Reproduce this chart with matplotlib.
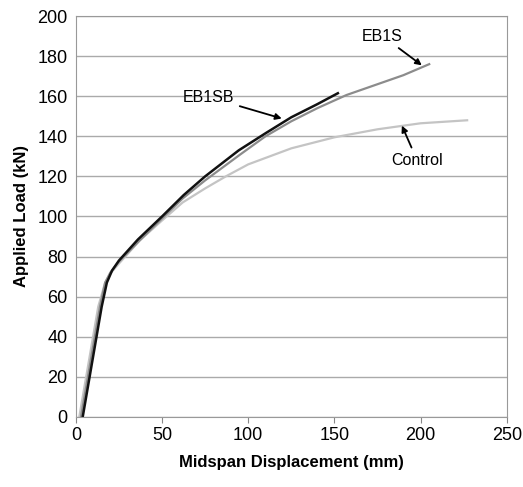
import matplotlib.pyplot as plt

# curves (displacement mm, load kN)
control_x = [2, 5, 9, 13, 17, 20, 25, 37, 50, 62, 75, 87, 100, 125, 150, 175, 200, 227]
control_y = [0, 15, 35, 55, 67, 71.5, 76.5, 88, 98, 107, 114, 120, 126, 134, 139.5, 143.5, 146.5, 148]

eb1s_x = [3, 6, 10, 14, 17, 20, 25, 37, 50, 62, 75, 95, 110, 125, 140, 157, 175, 190, 205]
eb1s_y = [0, 15, 35, 55, 67, 72, 77.5, 88, 99, 109, 118, 130.7, 140, 147.5, 154, 160.6, 166, 170.5, 176]

eb1sb_x = [4, 7, 11, 15, 18, 21, 25, 36, 50, 62.6, 75, 94.5, 110, 125, 140, 152]
eb1sb_y = [0, 15, 35, 55, 67, 73, 78, 88.5, 100, 110.7, 120, 133, 141.5, 149.5, 156, 161.5]

x_ticks = [0, 50, 100, 150, 200, 250]
y_ticks = list(range(0, 201, 20))

plt.rcParams['font.family'] = ['Liberation Sans Narrow', 'Liberation Sans', 'DejaVu Sans']

fig = plt.figure(figsize=(5.23, 4.87), dpi=100)
ax = fig.add_axes([0.145, 0.144, 0.824, 0.823])

ax.plot(control_x, control_y, color='#c4c4c4', linewidth=1.6)
ax.plot(eb1s_x, eb1s_y, color='#8c8c8c', linewidth=1.6)
ax.plot(eb1sb_x, eb1sb_y, color='#111111', linewidth=1.8)

arrow = dict(arrowstyle='-|>', color='black', lw=1.3, mutation_scale=9)
ax.annotate('EB1S', xy=(202, 174.6), xytext=(178, 190), ha='center', va='center',
            fontsize=11.5, arrowprops=arrow)
ax.annotate('EB1SB', xy=(121, 148.5), xytext=(77, 159.6), ha='center', va='center',
            fontsize=11.5, arrowprops=arrow)
ax.annotate('Control', xy=(188.5, 146.6), xytext=(198, 128), ha='center', va='center',
            fontsize=11.5, arrowprops=arrow)

ax.set_xlim(0, 250)
ax.set_ylim(0, 200)
ax.set_xticks(x_ticks)
ax.set_yticks(y_ticks)
ax.tick_params(labelsize=13, length=4, color='#888888')
ax.tick_params(axis='y', length=0, pad=6)
ax.grid(axis='y', color='#aaaaaa', linewidth=1)
ax.set_axisbelow(True)
for s in ax.spines.values():
    s.set_color('#999999')

ax.set_xlabel('Midspan Displacement (mm)', fontsize=12, fontweight='bold', labelpad=8)
ax.set_ylabel('Applied Load (kN)', fontsize=12, fontweight='bold', labelpad=6)

fig.savefig('out.png', dpi=100)
